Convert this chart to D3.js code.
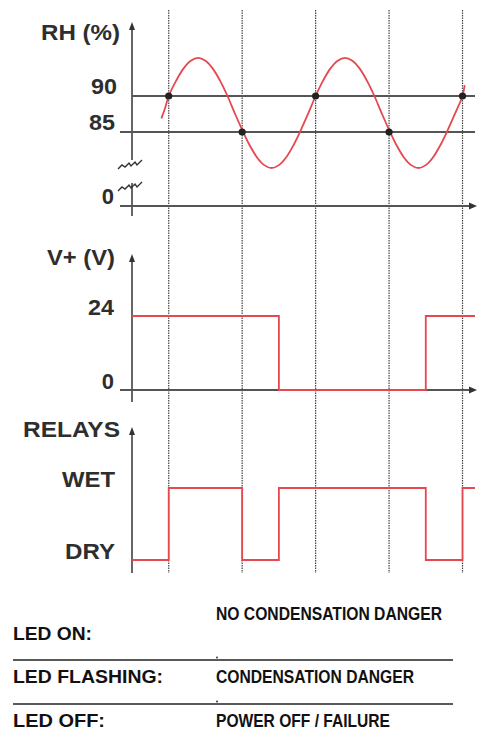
<!DOCTYPE html>
<html>
<head>
<meta charset="utf-8">
<script src="https://cdn.jsdelivr.net/npm/d3@7/dist/d3.min.js"></script>
<style>
  html, body { margin: 0; padding: 0; background: #fff; }
  svg { display: block; }
  text { font-family: "Liberation Sans", Arial, sans-serif; font-weight: bold; }
</style>
</head>
<body>
<svg id="chart" width="477" height="742"></svg>
<script>
// ---------- DATA ----------
// time units: dotted event lines at t = 1..5
const eventTimes = [1, 2, 3, 4, 5];
const eventRH    = [90, 85, 90, 85, 90];

// relative humidity curve
const rhTimes  = [0.9, 0.95, 1.0, 1.1, 1.2, 1.3, 1.4, 1.5, 1.6, 1.7, 1.8, 1.9, 2.0, 2.1, 2.2, 2.3, 2.4, 2.5, 2.6, 2.7, 2.8, 2.9,
                  3.0, 3.1, 3.2, 3.3, 3.4, 3.5, 3.6, 3.7, 3.8, 3.9, 4.0, 4.1, 4.2, 4.3, 4.4, 4.5, 4.6, 4.7, 4.8, 4.9, 5.0, 5.03];
const rhValues = [86.9, 88.3, 90.0, 92.1, 93.8, 94.9, 95.3, 94.9, 93.8, 92.1, 90.0, 87.6, 85.3, 83.2, 81.5, 80.4, 80.0, 80.4, 81.5, 83.2, 85.3, 87.6,
                  90.0, 92.1, 93.8, 94.9, 95.3, 94.9, 93.8, 92.1, 90.0, 87.6, 85.3, 83.2, 81.5, 80.4, 80.0, 80.4, 81.5, 83.2, 85.3, 87.6, 90.0, 91.5];
const rhThresholds = [90, 85];
const rhTicks = [90, 85, 0];

// supply voltage
const vTimes  = [0.5, 2.5, 4.5, 5.17];
const vValues = [24, 0, 24, 24];
const vTicks  = [24, 0];

// relays
const relayTimes  = [0.5, 1, 2, 2.5, 4.5, 5, 5.17];
const relayStates = ["DRY", "WET", "DRY", "WET", "DRY", "WET", "WET"];
const relayTicks  = ["WET", "DRY"];

// LED legend
const ledStates  = ["LED ON:", "LED FLASHING:", "LED OFF:"];
const ledMeaning = ["NO CONDENSATION DANGER", "CONDENSATION DANGER", "POWER OFF / FAILURE"];

// ---------- SCALES ----------
const svg = d3.select("#chart");
const RED = "#e3494f", GRAY = "#555", AXIS = "#333", LABEL = "#2e2e2e";

const x = d3.scaleLinear().domain([0.5, 5.17]).range([132, 475]);
const yRH = d3.scaleLinear().domain([0, 76, 85, 90]).range([206, 196.8, 132, 96]);
const yV = d3.scaleLinear().domain([0, 24]).range([390, 316]);
const yR = d3.scalePoint().domain(["DRY", "WET"]).range([560, 488]);

function label(txt, xr, y, w, size) {
  const t = svg.append("text").attr("x", xr).attr("y", y)
    .attr("text-anchor", "end").attr("fill", LABEL)
    .attr("font-size", size).text(txt);
  if (w) t.attr("textLength", w).attr("lengthAdjust", "spacingAndGlyphs");
  return t;
}
function upArrow(xc, yTop) {
  svg.append("path").attr("d", `M${xc},${yTop} L${xc-3},${yTop+8} L${xc+3},${yTop+8} Z`).attr("fill", AXIS);
}
function rightArrow(xTip, yc) {
  svg.append("path").attr("d", `M${xTip},${yc} L${xTip-8},${yc-3.5} L${xTip-8},${yc+3.5} Z`).attr("fill", AXIS);
}

// ---------- DOTTED EVENT LINES ----------
svg.append("g").selectAll("line").data(eventTimes).join("line")
  .attr("x1", d => x(d)).attr("x2", d => x(d))
  .attr("y1", 10).attr("y2", 573)
  .attr("stroke", "#444").attr("stroke-width", 1.2)
  .attr("stroke-dasharray", "1.5,1");

// ---------- PANEL 1: RH ----------
// y axis (broken)
svg.append("line").attr("x1", 132).attr("x2", 132).attr("y1", 26).attr("y2", 160).attr("stroke", AXIS).attr("stroke-width", 1.5);
svg.append("line").attr("x1", 132).attr("x2", 132).attr("y1", 183).attr("y2", 216).attr("stroke", AXIS).attr("stroke-width", 1.5);
upArrow(132, 22);
// break marks
[162, 184].forEach(yb => {
  svg.append("path")
    .attr("d", `M118,${yb+7} L122,${yb+3} L125,${yb+5} L129,${yb+1} L131,${yb+4} L135,${yb} L137,${yb+3} L142,${yb-2}`)
    .attr("fill", "none").attr("stroke", AXIS).attr("stroke-width", 1.4);
});
// threshold lines
svg.append("g").selectAll("line").data(rhThresholds).join("line")
  .attr("x1", d => d === 85 ? 120 : 132).attr("x2", 475)
  .attr("y1", d => yRH(d)).attr("y2", d => yRH(d))
  .attr("stroke", GRAY).attr("stroke-width", 2);
// zero axis
svg.append("line").attr("x1", 120).attr("x2", 470).attr("y1", yRH(0)).attr("y2", yRH(0)).attr("stroke", GRAY).attr("stroke-width", 2);
rightArrow(477, yRH(0));
// curve
const rhPts = rhTimes.map((t, i) => [t, rhValues[i]]);
svg.append("path").datum(rhPts)
  .attr("d", d3.line().x(d => x(d[0])).y(d => yRH(d[1])).curve(d3.curveCatmullRom))
  .attr("fill", "none").attr("stroke", RED).attr("stroke-width", 1.8);
// dots
svg.append("g").selectAll("circle").data(eventTimes).join("circle")
  .attr("cx", d => x(d)).attr("cy", (d, i) => yRH(eventRH[i])).attr("r", 3.6)
  .attr("fill", "#222");
// labels
label("RH (%)", 120, 40, 79, 22);
rhTicks.forEach(v => {
  const w = v === 0 ? null : 26;
  label(String(v), v === 0 ? 114 : (v === 90 ? 117 : 115), yRH(v) - 2, w, 22);
});

// ---------- PANEL 2: V+ ----------
svg.append("line").attr("x1", 132).attr("x2", 132).attr("y1", 258).attr("y2", 402).attr("stroke", AXIS).attr("stroke-width", 1.5);
upArrow(132, 254);
svg.append("line").attr("x1", 120).attr("x2", 470).attr("y1", yV(0)).attr("y2", yV(0)).attr("stroke", GRAY).attr("stroke-width", 2);
rightArrow(477, yV(0));
const vPts = vTimes.map((t, i) => [t, vValues[i]]);
svg.append("path").datum(vPts)
  .attr("d", d3.line().x(d => x(d[0])).y(d => yV(d[1])).curve(d3.curveStepAfter))
  .attr("fill", "none").attr("stroke", RED).attr("stroke-width", 1.8);
label("V+ (V)", 115, 265, 68, 22);
vTicks.forEach(v => label(String(v), 114, yV(v) - 1, v === 0 ? null : 26, 22));

// ---------- PANEL 3: RELAYS ----------
svg.append("line").attr("x1", 132).attr("x2", 132).attr("y1", 431).attr("y2", 573).attr("stroke", AXIS).attr("stroke-width", 1.5);
upArrow(132, 427);
const rPts = relayTimes.map((t, i) => [t, relayStates[i]]);
svg.append("path").datum(rPts)
  .attr("d", d3.line().x(d => x(d[0])).y(d => yR(d[1])).curve(d3.curveStepAfter))
  .attr("fill", "none").attr("stroke", RED).attr("stroke-width", 1.8);
label("RELAYS", 120, 437, 97, 22);
relayTicks.forEach(s => label(s, 115, yR(s) - 1, s === "WET" ? 53 : 50, 22));

// ---------- LED LEGEND ----------
const ledRowY = [640, 683, 727];
const ledDescY = [620, 683, 727];
const ledW = [79, 150, 92];
const descW = [226, 198, 174];
ledStates.forEach((s, i) => {
  svg.append("text").attr("x", 13).attr("y", ledRowY[i]).attr("fill", "#111").attr("font-size", 18)
    .attr("textLength", ledW[i]).attr("lengthAdjust", "spacingAndGlyphs").text(s);
  svg.append("text").attr("x", 216).attr("y", ledDescY[i]).attr("fill", "#111").attr("font-size", 17.5)
    .attr("textLength", descW[i]).attr("lengthAdjust", "spacingAndGlyphs").text(ledMeaning[i]);
});
[660, 704].forEach(yl => {
  svg.append("line").attr("x1", 13).attr("x2", 453).attr("y1", yl).attr("y2", yl).attr("stroke", "#222").attr("stroke-width", 1.5);
  svg.append("circle").attr("cx", 217).attr("cy", yl - 2.5).attr("r", 0.9).attr("fill", "#222");
});
</script>
</body>
</html>
